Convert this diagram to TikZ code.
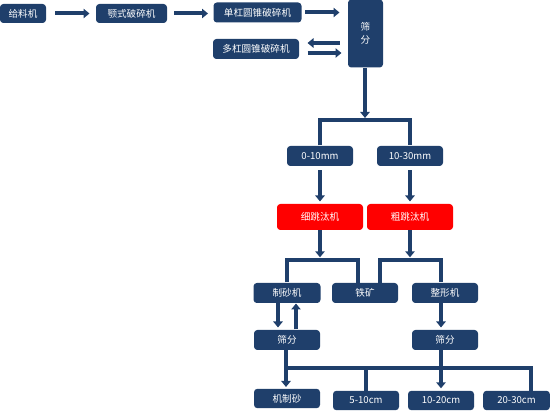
\documentclass[tikz,border=0pt]{standalone}
\usepackage{fontspec}
\setmainfont{Noto Sans CJK SC}
\usetikzlibrary{arrows.meta}

\definecolor{navy}{HTML}{1F3F6B}
\definecolor{hotred}{HTML}{FF0000}

\tikzset{every picture/.style={line width=0.75pt}}
\tikzset{
  box/.style={fill=navy, rounded corners=2.5pt, text=white, inner sep=0pt,
    minimum width=49.5pt, minimum height=15pt, font=\fontsize{7.2}{9.5}\selectfont},
  hotbox/.style={box, fill=hotred, minimum width=64.5pt, minimum height=19.5pt},
  flow/.style={draw=navy, line width=3pt, -{Triangle[width=7pt,length=4.5pt]}},
  bar/.style={draw=navy, line width=3.5pt}
}

\begin{document}
\begin{tikzpicture}[x=0.75pt,y=0.75pt,yscale=-1,xscale=1]
\useasboundingbox (0,0) rectangle (550,413); %set diagram to 550 x 413

% Text Node
\node (feed) at (23,13.5) [box, minimum width=34.5pt, minimum height=14.25pt] {给料机};
% Text Node
\node (jaw) at (131.5,13.5) [box, minimum width=53.25pt, minimum height=14.25pt] {颚式破碎机};
% Text Node
\node (single) at (257.5,12.5) [box, minimum width=66pt] {单杠圆锥破碎机};
% Text Node
\node (screen1) at (365.5,33.5) [box, minimum width=26.25pt, minimum height=51pt, align=center] {筛\\分};
% Text Node
\node (multi) at (256,49) [box, minimum width=64.5pt] {多杠圆锥破碎机};
% Text Node
\node (fine) at (320,156) [box] {0-10mm};
% Text Node
\node (coarse) at (410,156) [box] {10-30mm};
% Text Node
\node (hotfine) at (320,217) [hotbox] {细跳汰机};
% Text Node
\node (hotcoarse) at (410,217) [hotbox] {粗跳汰机};
% Text Node
\node (sandmill) at (287,293) [box, minimum width=50.25pt] {制砂机};
% Text Node
\node (ironore) at (365,293) [box] {铁矿};
% Text Node
\node (shaper) at (445,293) [box] {整形机};
% Text Node
\node (screen2) at (287,340) [box] {筛分};
% Text Node
\node (screen3) at (445,340) [box] {筛分};
% Text Node
\node (jizhisha) at (287,398.5) [box, minimum height=14.5pt] {机制砂};
% Text Node
\node (grade1) at (366,400.5) [box, minimum height=14.5pt] {5-10cm};
% Text Node
\node (grade2) at (441,400.5) [box, minimum height=14.5pt] {10-20cm};
% Text Node
\node (grade3) at (516.5,400.5) [box, minimum width=50pt, minimum height=14.5pt] {20-30cm};

% Junctions
\coordinate (split1) at (365,120);
\coordinate (split2) at (320,260);
\coordinate (split3) at (410,260);
\coordinate (split4) at (286,368);

% Connection
\draw [flow, shorten <=6.5pt, shorten >=4.5pt] (feed.east) -- (jaw.west);
% Connection
\draw [flow, shorten <=5pt, shorten >=3.75pt] (jaw.east) -- (jaw.east -| single.west);
% Connection
\draw [flow, shorten <=2.25pt, shorten >=6pt] (single.east) -- (single.east -| screen1.west);
% Connection
\draw [flow, shorten <=6pt, shorten >=6pt] (screen1.west |- 0,43) -- (multi.east |- 0,43);
% Connection
\draw [flow, shorten <=6pt, shorten >=4.5pt] (multi.east |- 0,53) -- (screen1.west |- 0,53);
% Connection
\draw [flow, shorten >=1.5pt] (screen1.south -| split1) -- (split1);
\draw [bar] (fine.north) |- (split1) -| (coarse.north);
% Connection
\draw [flow, shorten <=3pt, shorten >=1.5pt] (fine.south) -- (hotfine.north);
% Connection
\draw [flow, shorten <=3pt, shorten >=1.5pt] (coarse.south) -- (hotcoarse.north);
% Connection
\draw [flow, shorten >=2pt] (hotfine.south) -- (split2);
\draw [bar] (sandmill.north) |- (split2) -| ([xshift=-5.25pt,yshift=1.5pt]ironore.north);
% Connection
\draw [flow, shorten >=2pt] (hotcoarse.south) -- (split3);
\draw [bar] ([xshift=11.25pt,yshift=1.5pt]ironore.north) |- (split3) -| ([xshift=-3pt]shaper.north);
% Connection
\draw [flow, shorten >=1.5pt] ([xshift=-6.75pt]sandmill.south) -- ([xshift=-6.75pt]screen2.north);
% Connection
\draw [flow] ([xshift=6.75pt]screen2.north) -- ([xshift=6.75pt]sandmill.south);
% Connection
\draw [flow, shorten >=1.5pt] ([xshift=-3pt]shaper.south) -- ([xshift=-3pt]screen3.north);
% Connection
\draw [flow, shorten >=1pt] (screen2.south -| split4) -- (jizhisha.north -| split4);
\draw [bar] (split4) -| ([xshift=10.9pt,yshift=1.5pt]grade3.north);
\draw [bar] ([yshift=1.5pt]grade1.north) -- (grade1.north |- split4);
% Connection
\draw [flow, shorten >=1.5pt] ([xshift=-3pt]screen3.south) -- (grade2.north);

\end{tikzpicture}
\end{document}
